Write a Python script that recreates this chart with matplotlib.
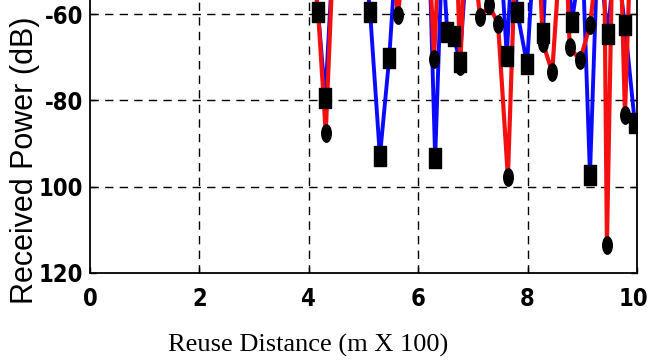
import matplotlib
matplotlib.use("Agg")
import matplotlib.pyplot as plt
from matplotlib.path import Path
from matplotlib.transforms import Affine2D, ScaledTranslation
from matplotlib import font_manager as fm
import warnings
warnings.filterwarnings("ignore")

# ---- data (points above -60 dB lie outside the view) ----
blue_x = [4.05, 4.17, 4.30, 4.45, 5.00, 5.12, 5.30, 5.47, 5.60, 6.20, 6.31, 6.44,
          6.53, 6.65, 6.76, 6.90, 7.50, 7.62, 7.72, 7.81, 7.99, 8.12, 8.22, 8.28,
          8.36, 8.72, 8.81, 9.00, 9.14, 9.28, 9.47, 9.60, 9.78, 9.96]
blue_y = [-45, -59.5, -79.5, -45, -45, -59.5, -93.0, -70.2, -45, -45, -93.4, -45,
          -64.2, -65.1, -71.1, -45, -45, -69.7, -45, -59.5, -71.6, -45, -45, -64.4,
          -45, -45, -61.9, -45, -97.4, -45, -64.6, -45, -62.5, -85.3]

red_x = [4.05, 4.17, 4.31, 4.45, 5.50, 5.63, 5.75, 6.20, 6.29, 6.38, 6.70, 6.77,
         6.85, 7.00, 7.13, 7.30, 7.46, 7.64, 7.78, 8.20, 8.28, 8.45, 8.60, 8.70,
         8.77, 8.96, 9.14, 9.30, 9.40, 9.45, 9.55, 9.70, 9.78, 9.88]
red_y = [-45, -59.5, -87.5, -45, -45, -60.3, -45, -45, -70.5, -45, -45, -72.0,
         -45, -45, -60.7, -58, -62.3, -97.8, -45, -45, -66.7, -73.5, -45, -45,
         -67.7, -70.7, -62.6, -45, -45, -113.6, -45, -45, -83.4, -45]

x_ticks = [0, 2, 4, 6, 8, 10]
y_ticks = [-60, -80, -100, -120]
y_tick_labels = ["-60", "-80", "100", "120"]

# ---- pick a narrow bold font for tick labels if one is installed ----
tick_fp = None
files = [f.fname for f in fm.fontManager.ttflist]
for key in ("LiberationSansNarrow-Bold", "DejaVuSansCondensed-Bold", "Condensed-Bold",
            "CondensedBold", "Narrow-Bold"):
    hits = [f for f in files if key.lower() in f.replace(" ", "").lower()
            and "oblique" not in f.lower() and "italic" not in f.lower()]
    if hits:
        size = 20 if "narrow" in key.lower() else 17
        tick_fp = fm.FontProperties(fname=hits[0], size=size)
        break
if tick_fp is None:
    tick_fp = fm.FontProperties(family=["Liberation Sans", "DejaVu Sans"], weight="bold", size=17)

# ---- figure ----
W, H = 649, 364
fig = plt.figure(figsize=(W / 100, H / 100), dpi=100)
y_top_px = 14 - 5 * (259 / 60)
ax = fig.add_axes([90 / W, 1 - 273 / H, (637 - 90) / W, (273 - y_top_px) / H])
ax.set_xlim(0, 10)
ax.set_ylim(-120, -55)

# tall rectangle / ellipse markers (the original is stretched vertically)
sq = Path([(-0.29, -0.5), (0.29, -0.5), (0.29, 0.5), (-0.29, 0.5), (-0.29, -0.5)],
          [Path.MOVETO, Path.LINETO, Path.LINETO, Path.LINETO, Path.CLOSEPOLY])
circ = Path.unit_circle().transformed(Affine2D().scale(0.55, 1.0))

for x in [2, 4, 6, 8]:
    ax.axvline(x, color="black", lw=1.0, ls=(0, (6, 4.5)), zorder=1)
for y in [-60, -80, -100]:
    ax.axhline(y, color="black", lw=1.0, ls=(0, (6, 4.5)), zorder=1)

ax.plot(blue_x, blue_y, color="#0a0aff", lw=2.8, zorder=2, solid_joinstyle="miter")
ax.plot(red_x, red_y, color="#f41010", lw=3.0, zorder=3, solid_joinstyle="miter")
ax.plot(blue_x, blue_y, ls="none", marker=sq, ms=15, mfc="black", mec="black", zorder=4)
ax.plot(red_x, red_y, ls="none", marker=circ, ms=12.5, mfc="black", mec="black", zorder=4)

ax.set_xticks(x_ticks)
ax.set_xticklabels([str(v) for v in x_ticks], fontproperties=tick_fp)
ax.set_yticks(y_ticks)
ax.set_yticklabels(y_tick_labels, fontproperties=tick_fp)
ax.tick_params(direction="in", length=4, width=1, top=True, right=True)
ax.tick_params(axis="y", pad=5)
ax.tick_params(axis="x", pad=10)
for s in ax.spines.values():
    s.set_linewidth(1.3)

# keep the last x label inside the picture
last = ax.get_xticklabels()[-1]
last.set_transform(last.get_transform() + ScaledTranslation(-4 / 100, 0, fig.dpi_scale_trans))

fig.text(25 / W, 1 - 160 / H, "Received Power (dB)", rotation=90, ha="center", va="center",
         family=["Liberation Sans", "DejaVu Sans"], fontsize=22)
fig.text(308 / W, 1 - 345 / H, "Reuse Distance (m X 100)", ha="center", va="center",
         family=["Liberation Serif", "DejaVu Serif"], fontsize=19)

fig.savefig("out.png", dpi=100)
